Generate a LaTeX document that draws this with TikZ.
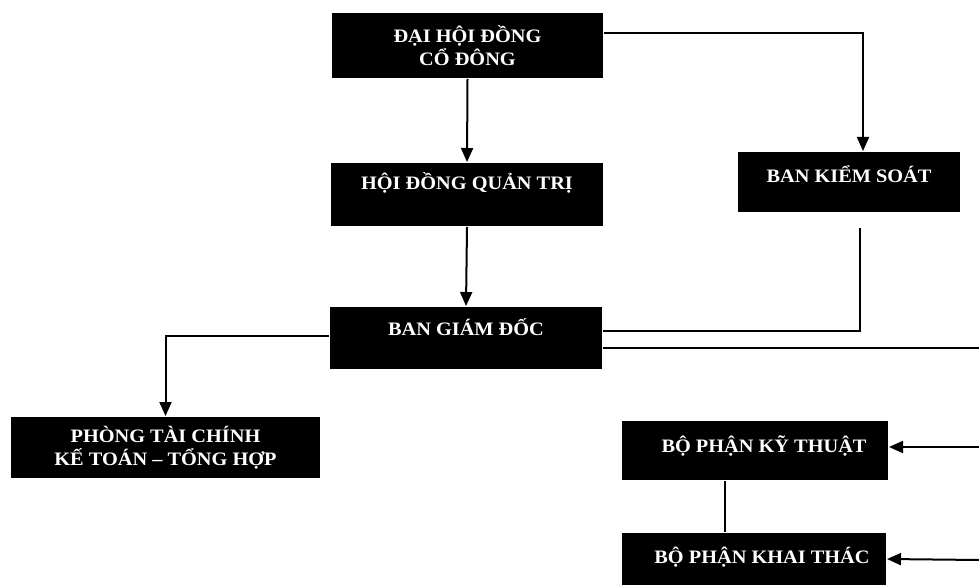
\documentclass[tikz,border=0pt]{standalone}
\usepackage{fontspec}
\setmainfont[FakeStretch=1.07]{Liberation Serif}
\usetikzlibrary{arrows.meta}

\begin{document}
\begin{tikzpicture}[x=1pt,y=-1pt,line width=2pt,
	box/.style={rectangle,fill=black,text=white,inner sep=0pt,align=center,
		font=\fontsize{19}{22.5}\selectfont\bfseries},
	raise/.style={text height=10pt,text depth=#1},
	link/.style={-{Triangle[width=12pt,length=14pt]}},
	plain/.style={-}]
	\useasboundingbox (0,0) rectangle (979,585);

	\node (dhdcd) [box,minimum width=271pt,minimum height=65pt] at (467.5,45.5) {ĐẠI HỘI ĐỒNG\\CỔ ĐÔNG};
	\node (hdqt)  [box,raise=19pt,minimum width=272pt,minimum height=63pt] at (467,194.5) {HỘI ĐỒNG QUẢN TRỊ};
	\node (bks)   [box,raise=8.4pt,minimum width=222pt,minimum height=60pt] at (849,182) {BAN KIỂM SOÁT};
	\node (bgd)   [box,raise=15.4pt,minimum width=272pt,minimum height=62pt] at (466,338) {BAN GIÁM ĐỐC};
	\node (ptc)   [box,minimum width=309pt,minimum height=61pt] at (165.5,447.5) {PHÒNG TÀI CHÍNH\\KẾ TOÁN – TỔNG HỢP};
	\node (bpkt)  [box,raise=6.4pt,minimum width=266pt,minimum height=59pt] at (755,450.5) {\hspace*{18pt}BỘ PHẬN KỸ THUẬT};
	\node (bpkth) [box,raise=1pt,minimum width=264pt,minimum height=52pt] at (754,559) {\hspace*{16pt}BỘ PHẬN KHAI THÁC};

	\coordinate (edgetop) at (979,348);
	\coordinate (edgekt)  at (979,447);
	\coordinate (edgekth) at (979,560);

	\draw[link] ([yshift=12.5pt]dhdcd.east) -| ([xshift=14pt]bks.north);
	\draw[link] (dhdcd.south) to (hdqt.north);
	\draw[link] (hdqt.south) to (bgd.north);
	\draw[plain,shorten <=15pt] ([xshift=11pt]bks.south) |- ([yshift=7pt]bgd.east);
	\draw[plain] ([yshift=-10pt]bgd.east) to (edgetop);
	\draw[link] ([yshift=2pt]bgd.west) -| (ptc.north);
	\draw[link] (edgekt) to ([yshift=3.5pt]bpkt.east);
	\draw[link] (edgekth) to (bpkth.east);
	\draw[plain,line width=2.6pt] ([xshift=-30pt]bpkt.south) to ([xshift=-29pt]bpkth.north);
\end{tikzpicture}
\end{document}
